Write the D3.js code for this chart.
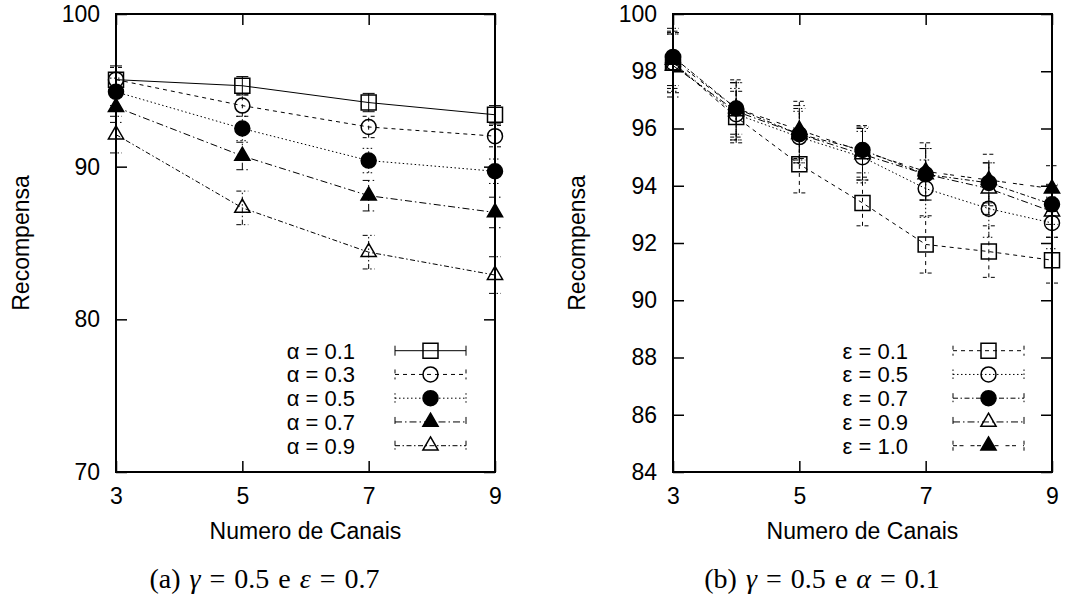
<!DOCTYPE html>
<html>
<head>
<meta charset="utf-8">
<script src="https://cdn.jsdelivr.net/npm/d3@7"></script>
<style>
  body { margin: 0; background: #fff; }
  text { font-family: "Liberation Sans", Arial, sans-serif; fill: #000; }
  text.cap { font-family: "Liberation Serif", "Times New Roman", serif; }
</style>
</head>
<body>
<svg id="chart" width="1081" height="601"></svg>
<script>
// ---- data ----
const xTicks = [3, 5, 7, 9];

// panel (a): alpha varies
const channelsA = [3, 5, 7, 9];
const alphaLabels = ["α = 0.1", "α = 0.3", "α = 0.5", "α = 0.7", "α = 0.9"];
const alpha01 = [95.7, 95.3, 94.2, 93.4];
const alpha03 = [95.7, 94.0, 92.6, 92.0];
const alpha05 = [94.9, 92.5, 90.4, 89.7];
const alpha07 = [93.9, 90.7, 88.1, 87.0];
const alpha09 = [92.1, 87.3, 84.4, 82.9];
const alpha01Err = [0.9, 0.6, 0.6, 0.6];
const alpha03Err = [0.8, 0.7, 0.7, 0.7];
const alpha05Err = [0.9, 0.8, 0.8, 0.8];
const alpha07Err = [1.0, 0.9, 1.0, 1.0];
const alpha09Err = [1.2, 1.1, 1.1, 1.2];
const yTicksA = [70, 80, 90, 100];

// panel (b): epsilon varies
const channelsB = [3, 4, 5, 6, 7, 8, 9];
const epsLabels = ["ε = 0.1", "ε = 0.5", "ε = 0.7", "ε = 0.9", "ε = 1.0"];
const eps01 = [98.3, 96.4, 94.75, 93.4, 91.95, 91.7, 91.4];
const eps05 = [98.3, 96.5, 95.7, 95.0, 93.9, 93.2, 92.7];
const eps07 = [98.5, 96.7, 95.8, 95.25, 94.4, 94.1, 93.35];
const eps09 = [98.2, 96.6, 95.8, 95.1, 94.4, 93.9, 93.1];
const eps10 = [98.4, 96.7, 95.95, 95.2, 94.5, 94.2, 93.9];
const eps01Err = [1.05, 0.9, 1.0, 0.8, 1.0, 0.9, 0.8];
const eps05Err = [1.0, 0.9, 0.9, 0.9, 1.0, 1.0, 0.9];
const eps07Err = [1.0, 0.9, 0.9, 0.8, 0.9, 0.7, 0.7];
const eps09Err = [1.1, 1.0, 1.0, 0.9, 0.9, 0.9, 0.9];
const eps10Err = [1.0, 1.0, 1.0, 0.9, 1.0, 0.9, 0.8];
const yTicksB = [84, 86, 88, 90, 92, 94, 96, 98, 100];

// ---- line / point styles (gnuplot-like) ----
const DASH = {
  solid: null,
  dashed: "4,4",
  dotted: "1.5,2.5",
  dashDotLong: "7,3,1.5,3",
  dashDot: "5,2.5,1.5,2.5",
  dashPair: "4,2.5,4,7"
};

const svg = d3.select("#chart");

function marker(g, type, cx, cy) {
  const filled = type.startsWith("f");
  const shape = type.slice(1);
  let sym, size;
  if (shape === "square") { sym = d3.symbolSquare; size = 15 * 15; }
  else if (shape === "circle") { sym = d3.symbolCircle; size = Math.PI * 7.5 * 7.5; }
  else { sym = d3.symbolTriangle; size = 100; }
  g.append("path")
    .attr("d", d3.symbol(sym, size)())
    .attr("transform", `translate(${cx},${cy})`)
    .attr("fill", filled ? "#000" : "none")
    .attr("stroke", "#000")
    .attr("stroke-width", 1.5);
}

function panel(cfg) {
  const g = svg.append("g");
  const x = d3.scaleLinear().domain([3, 9]).range([cfg.x0, cfg.x1]);
  const y = d3.scaleLinear().domain(cfg.yDomain).range([472, 14]);

  // axes, ticks pointing inward, mirrored on top/right
  const bottom = g.append("g").attr("transform", `translate(0,472)`)
    .call(d3.axisBottom(x).tickValues(xTicks).tickFormat(d3.format("d"))
      .tickSize(-11).tickSizeOuter(0).tickPadding(16));
  const top = g.append("g").attr("transform", `translate(0,14)`)
    .call(d3.axisTop(x).tickValues(xTicks).tickSize(-11).tickSizeOuter(0).tickFormat(""));
  const left = g.append("g").attr("transform", `translate(${cfg.x0},0)`)
    .call(d3.axisLeft(y).tickValues(cfg.yTicks).tickFormat(d3.format("d"))
      .tickSize(-11).tickSizeOuter(0).tickPadding(16));
  const right = g.append("g").attr("transform", `translate(${cfg.x1},0)`)
    .call(d3.axisRight(y).tickValues(cfg.yTicks).tickSize(-11).tickSizeOuter(0).tickFormat(""));
  [bottom, top, left, right].forEach(a => {
    a.select(".domain").remove();
    a.selectAll(".tick line").attr("stroke", "#000").attr("stroke-width", 1.5);
    a.selectAll("text").attr("font-size", 23).attr("fill", "#000");
  });

  g.append("rect")
    .attr("x", cfg.x0).attr("y", 14)
    .attr("width", cfg.x1 - cfg.x0).attr("height", 458)
    .attr("fill", "none").attr("stroke", "#000").attr("stroke-width", 2);

  // axis titles
  g.append("text")
    .attr("x", (cfg.x0 + cfg.x1) / 2).attr("y", 539)
    .attr("text-anchor", "middle").attr("font-size", 23)
    .text("Numero de Canais");
  g.append("text")
    .attr("transform", `translate(${cfg.yLabelX},243) rotate(-90)`)
    .attr("text-anchor", "middle").attr("font-size", 23)
    .text("Recompensa");

  // series
  const line = d3.line().x(d => x(d[0])).y(d => y(d[1]));
  cfg.series.forEach(s => {
    const pts = cfg.xs.map((v, i) => [v, s.values[i], s.err[i]]);
    const sg = g.append("g")
      .attr("stroke", "#000").attr("fill", "none").attr("stroke-width", 1)
      .attr("stroke-dasharray", DASH[s.dash]);
    sg.append("path").attr("d", line(pts));
    pts.forEach(p => {
      const px = x(p[0]), lo = y(p[1] - p[2]), hi = y(p[1] + p[2]);
      sg.append("line").attr("x1", px).attr("x2", px).attr("y1", lo).attr("y2", hi);
      sg.append("line").attr("x1", px - 6).attr("x2", px + 6).attr("y1", lo).attr("y2", lo);
      sg.append("line").attr("x1", px - 6).attr("x2", px + 6).attr("y1", hi).attr("y2", hi);
    });
    const mg = g.append("g");
    pts.forEach(p => marker(mg, s.marker, x(p[0]), y(p[1])));
  });

  // key
  cfg.series.forEach((s, i) => {
    const ry = 350.7 + i * 23.75;
    g.append("text")
      .attr("x", cfg.keyText).attr("y", ry + 8)
      .attr("text-anchor", "end").attr("font-size", 22)
      .text(cfg.labels[i]);
    const kg = g.append("g")
      .attr("stroke", "#000").attr("fill", "none").attr("stroke-width", 1)
      .attr("stroke-dasharray", DASH[s.dash]);
    kg.append("line").attr("x1", cfg.keyX0).attr("x2", cfg.keyX1).attr("y1", ry).attr("y2", ry);
    kg.append("line").attr("x1", cfg.keyX0).attr("x2", cfg.keyX0).attr("y1", ry - 5).attr("y2", ry + 5);
    kg.append("line").attr("x1", cfg.keyX1).attr("x2", cfg.keyX1).attr("y1", ry - 5).attr("y2", ry + 5);
    marker(g, s.marker, (cfg.keyX0 + cfg.keyX1) / 2, ry);
  });
}

panel({
  x0: 116, x1: 495, yDomain: [70, 100], yTicks: yTicksA, yLabelX: 29,
  xs: channelsA, labels: alphaLabels,
  keyText: 355, keyX0: 395, keyX1: 466,
  series: [
    { values: alpha01, err: alpha01Err, dash: "solid", marker: "osquare" },
    { values: alpha03, err: alpha03Err, dash: "dashed", marker: "ocircle" },
    { values: alpha05, err: alpha05Err, dash: "dotted", marker: "fcircle" },
    { values: alpha07, err: alpha07Err, dash: "dashDotLong", marker: "ftriangle" },
    { values: alpha09, err: alpha09Err, dash: "dashDot", marker: "otriangle" }
  ]
});

panel({
  x0: 673, x1: 1052, yDomain: [84, 100], yTicks: yTicksB, yLabelX: 585,
  xs: channelsB, labels: epsLabels,
  keyText: 908, keyX0: 953, keyX1: 1024,
  series: [
    { values: eps01, err: eps01Err, dash: "dashed", marker: "osquare" },
    { values: eps05, err: eps05Err, dash: "dotted", marker: "ocircle" },
    { values: eps07, err: eps07Err, dash: "dashDot", marker: "fcircle" },
    { values: eps09, err: eps09Err, dash: "dashDotLong", marker: "otriangle" },
    { values: eps10, err: eps10Err, dash: "dashPair", marker: "ftriangle" }
  ]
});

// sub-captions (LaTeX-like)
function caption(cx, tag, sym2, v2) {
  const t = svg.append("text").attr("class", "cap")
    .attr("x", cx).attr("y", 588)
    .attr("text-anchor", "middle")
    .attr("font-size", 28)
    .style("word-spacing", "2px");
  t.append("tspan").text(`(${tag}) `);
  t.append("tspan").attr("font-style", "italic").text("γ");
  t.append("tspan").text(" = 0.5 e ");
  t.append("tspan").attr("font-style", "italic").text(sym2);
  t.append("tspan").text(` = ${v2}`);
}
caption(264.5, "a", "ε", "0.7");
caption(822, "b", "α", "0.1");
</script>
</body>
</html>
